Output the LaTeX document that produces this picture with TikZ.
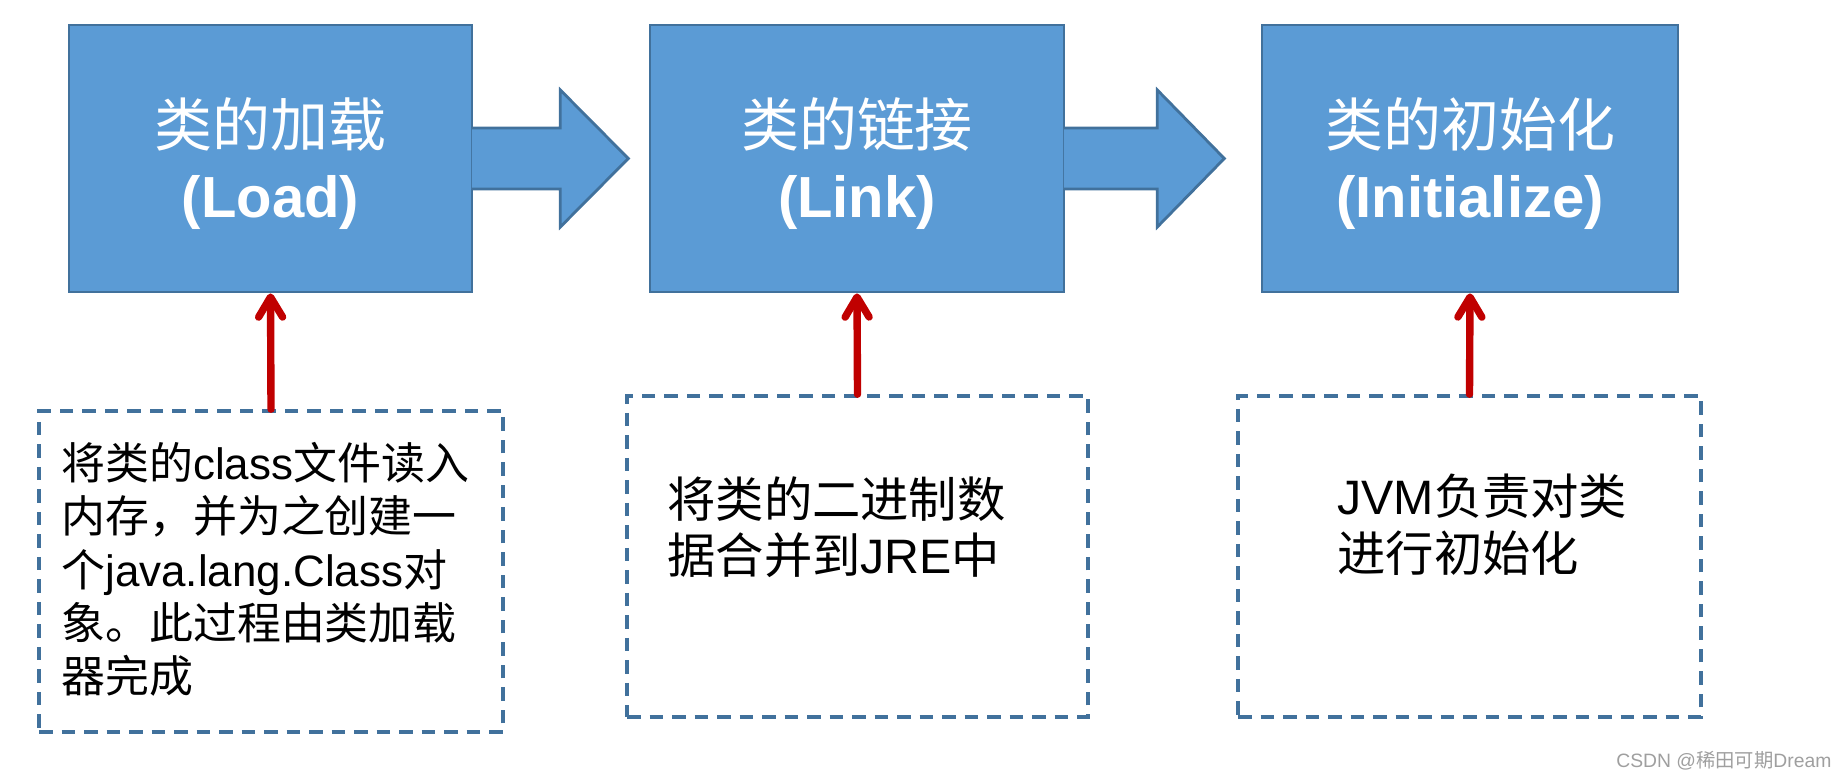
\documentclass[tikz,border=0pt]{standalone}
\usepackage{fontspec}
\setmainfont{Noto Sans CJK SC}
\newfontfamily\latin{Liberation Sans}
\usepackage{tikz}
\usetikzlibrary{arrows.meta,positioning}
\definecolor{boxfill}{HTML}{5B9BD5}
\definecolor{boxline}{HTML}{41719C}
\definecolor{noteline}{HTML}{41719C}
\definecolor{pointer}{HTML}{C00000}

\begin{document}
\begin{tikzpicture}[
  stage/.style={draw=boxline,line width=1.6pt,fill=boxfill,minimum height=5.34cm,
                inner sep=0pt},
  title/.style={align=center,inner sep=0pt,text=white,
                font=\fontsize{33}{40.4}\selectfont},
  blk/.style={draw=boxline,line width=1.6pt,fill=boxfill,line join=miter},
  note/.style={draw=noteline,line width=2pt,dash pattern=on 2.7mm off 1.8mm,
               minimum height=6.42cm,inner sep=0pt},
  txt/.style={anchor=north west,align=left,inner sep=0pt,text=black},
  up/.style={-{Straight Barb[length=4mm,width=4.8mm,round]},draw=pointer,
             line width=4.2pt,line cap=round},
  wm/.style={anchor=base west,inner sep=0pt,text=gray!75,
             font=\fontsize{11}{13}\selectfont}]
\useasboundingbox (0,0) rectangle (36.8,15.56);

% ---- top row: the three stages -------------------------------------------
\node[stage,minimum width=8.06cm] (load) at (5.41,12.39) {};
\node[stage,minimum width=8.28cm] (link) at (17.14,12.39) {};
\node[stage,minimum width=8.32cm] (init) at (29.40,12.39) {};
% titles sit a little below the box centre
\node[title] (loadtitle) at ([yshift=-0.11cm]load.center)
  {类的加载\\{\latin\bfseries (Load)}};
\node[title] (linktitle) at ([yshift=-0.11cm]link.center)
  {类的链接\\{\latin\bfseries (Link)}};
\node[title] (inittitle) at ([yshift=-0.11cm]init.center)
  {类的初始化\\{\latin\bfseries (Initialize)}};

% block arrows, left end open so the fill hides the box edge
\filldraw[blk] ([xshift=-0.9pt]load.east) ++(0,0.61) -- ++(1.77,0) -- ++(0,0.76)
  -- ++(1.36,-1.37) -- ++(-1.36,-1.37) -- ++(0,0.76) -- ++(-1.77,0);
\filldraw[blk] ([xshift=-0.9pt]link.east) ++(0,0.61) -- ++(1.87,0) -- ++(0,0.76)
  -- ++(1.34,-1.37) -- ++(-1.34,-1.37) -- ++(0,0.76) -- ++(-1.87,0);

% ---- bottom row: dashed notes --------------------------------------------
\node[note,minimum width=9.28cm] (loadnote) at (5.42,4.13) {};
\node[note,minimum width=9.22cm] (linknote) at (17.15,4.43) {};
\node[note,minimum width=9.26cm] (initnote) at (29.39,4.43) {};

\node[txt,font=\fontsize{25}{30.3}\selectfont] (loadtxt) at (1.22,6.72)
  {将类的{\latin class}文件读入\\内存，并为之创建一\\个{\latin java.lang.Class}对\\
   象。此过程由类加载\\器完成};
\node[txt,font=\fontsize{27.5}{31.8}\selectfont] (linktxt) at (13.34,6.04)
  {将类的二进制数\\据合并到{\latin JRE}中};
\node[txt,font=\fontsize{27.5}{32.3}\selectfont] (inittxt) at (26.74,6.08)
  {{\latin JVM}负责对类\\进行初始化};

\draw[up] (loadnote.north) -- (load.south);
\draw[up] (linknote.north) -- (link.south);
\draw[up] (initnote.north) -- (init.south);

\node[wm] (wmark) at (32.32,0.2) {{\latin CSDN @}稀田可期{\latin Dream}};
\end{tikzpicture}
\end{document}
